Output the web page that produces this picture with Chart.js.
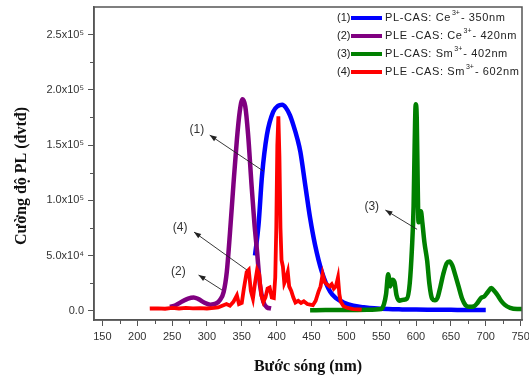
<!DOCTYPE html>
<html><head><meta charset="utf-8">
<script src="https://cdn.jsdelivr.net/npm/chart.js@4/dist/chart.umd.min.js"></script>
<style>html,body{margin:0;padding:0;background:#fff}</style>
</head><body>
<canvas id="c" width="529" height="376"></canvas>
<script>
// ---- data (wavelength nm, intensity a.u.) ----
const blueX = [369,374,379,386,395,402,408,413,419,424,430,434,441,448,455,465,477,486,496,510,525,540,560,580,600,620,650,680,700];
const blueY = [50000,77500,122000,159000,180000,185500,186500,184000,177000,168000,155000,144000,114000,84000,60000,35000,17000,11000,7500,4500,3200,2200,1500,1200,1000,900,800,700,700];

const purpleX = [247,255,265,273,281,288,296,305,313,319,324,328.5,333,338,343,347,351,355,359,364,368,372,376,381,386,392];
const purpleY = [3500,5000,8500,11000,12000,10500,7500,5500,6500,10000,17000,35000,70000,114000,155000,180000,191500,185000,160000,114000,80000,53000,24000,8000,3000,2000];

const greenX = [448,470,500,530,550,554,557,560,563,566,569,572,576,582,587,591,594,596.5,598,599.5,601,602.5,603.5,605,607,609,612,616,619,623,627,631,635,639,644,648,652,656,661,666,671,677,683,688,693,698,703,708,712,717,722,727,735,745,752];
const greenY = [500,600,700,800,1500,6000,15000,33000,22000,28000,26000,14000,9000,10000,11000,25000,55000,95000,150000,187000,175000,110000,80000,88000,90000,80000,62000,45000,25000,11000,9500,12000,22000,33000,43000,44500,41000,33000,22000,11000,5000,3500,4000,7000,11500,13000,17000,20500,18000,14000,9000,5500,2500,1500,1500];

const redX = [218,230,240,250,260,270,280,290,300,310,316,322,328,333,338,343,346,350,353,357,360,363,366,369,372,375,378,381,384,387,390,393,396,398,399.5,401,402.5,404,405.5,407,409,411,413,416,418,421,424,427,431,435,439,444,448,452,456,460,463,466,469,472,476,479,482,485,488,490,492,496,502,510,522];
const redY = [2000,2200,1800,2500,2000,2600,2200,2400,2000,2500,3000,4500,6000,4500,8000,14000,6000,7000,20000,35000,37000,18000,11000,25000,37000,33000,14000,8000,12000,20000,21000,12000,11500,30000,75000,150000,176000,140000,75000,46000,40000,25000,28000,35000,22000,18000,12000,7500,9000,7000,8500,6000,5500,5000,9000,17000,22000,33000,26000,24000,22000,24000,20000,22000,30000,15000,8000,4000,2500,1500,1000];

// ---- ticks ----
const xTickValues = [150,200,250,300,350,400,450,500,550,600,650,700,750];
const xMinorValues = [175,225,275,325,375,425,475,525,575,625,675,725];
const yTickValues = [0,50000,100000,150000,200000,250000];
const yTickLabels = ['0.0','5.0x10\u2074','1.0x10\u2075','1.5x10\u2075','2.0x10\u2075','2.5x10\u2075'];
const yMinorValues = [25000,75000,125000,175000,225000];

// ---- legend ----
const legendNums = ['(1)','(2)','(3)','(4)'];
const legendPre = ['PL-CAS: Ce','PLE -CAS: Ce','PL-CAS: Sm','PLE -CAS: Sm'];
const legendSup = ['3+','3+','3+','3+'];
const legendPost = ['- 350nm','- 420nm','- 402nm','- 602nm'];
const seriesColors = ['#0000ff','#800080','#008000','#ff0000'];

// ---- annotations (data units) ----
const annotLabels = ['(1)','(2)','(3)','(4)'];
const annotLabelX = [285.5,259,536.5,261.5];
const annotLabelY = [164000,35300,94100,74800];
const arrowHeadX = [304,288,556,281.5];
const arrowHeadY = [159000,32300,91100,71200];
const arrowTailX = [381,321.5,601.5,357.5];
const arrowTailY = [126400,18800,73700,36800];

const xTitle = 'Bước sóng (nm)';
const yTitle = 'Cường độ PL (đvtđ)';

const toPts = (xs, ys) => xs.map((x, i) => ({x: x, y: ys[i]}));

const deco = {
  id: 'deco',
  afterDraw(chart) {
    const ctx = chart.ctx, a = chart.chartArea;
    const xs = chart.scales.x, ys = chart.scales.y;
    ctx.save();
    // frame
    ctx.strokeStyle = '#555';
    ctx.lineWidth = 1.5;
    ctx.strokeRect(a.left, a.top, a.right - a.left, a.bottom - a.top);
    // minor ticks
    ctx.lineWidth = 1;
    ctx.beginPath();
    xMinorValues.forEach(v => { const p = Math.round(xs.getPixelForValue(v)) + 0.5; ctx.moveTo(p, a.bottom); ctx.lineTo(p, a.bottom + 4); });
    yMinorValues.forEach(v => { const p = Math.round(ys.getPixelForValue(v)) + 0.5; ctx.moveTo(a.left, p); ctx.lineTo(a.left - 4, p); });
    ctx.stroke();
    // y title
    ctx.save();
    ctx.translate(22, 176);
    ctx.rotate(-Math.PI / 2);
    ctx.font = 'bold 16px "Liberation Serif", "Times New Roman", serif';
    ctx.fillStyle = '#111';
    ctx.textAlign = 'center';
    ctx.textBaseline = 'middle';
    ctx.fillText(yTitle, 0, 0);
    ctx.restore();
    // legend
    ctx.textBaseline = 'middle';
    for (let i = 0; i < legendNums.length; i++) {
      const y = a.top + 11 + i * 18;
      let x = a.right - 185;
      ctx.font = '11px "Liberation Sans", Arial, sans-serif';
      ctx.fillStyle = '#222';
      ctx.textAlign = 'left';
      ctx.fillText(legendNums[i], x, y);
      ctx.strokeStyle = seriesColors[i];
      ctx.lineWidth = 4;
      ctx.beginPath();
      ctx.moveTo(x + 14, y); ctx.lineTo(x + 45, y); ctx.stroke();
      x += 48;
      ctx.letterSpacing = '0.6px';
      ctx.fillText(legendPre[i], x, y);
      x += ctx.measureText(legendPre[i]).width + 1;
      ctx.font = '7px "Liberation Sans", Arial, sans-serif';
      ctx.letterSpacing = '0px';
      ctx.fillText(legendSup[i], x, y - 5);
      x += ctx.measureText(legendSup[i]).width + 1;
      ctx.font = '11px "Liberation Sans", Arial, sans-serif';
      ctx.letterSpacing = '0.6px';
      ctx.fillText(legendPost[i], x, y);
      ctx.letterSpacing = '0px';
    }
    // annotations
    for (let i = 0; i < annotLabels.length; i++) {
      const lx = xs.getPixelForValue(annotLabelX[i]), ly = ys.getPixelForValue(annotLabelY[i]);
      ctx.font = '12px "Liberation Sans", Arial, sans-serif';
      ctx.fillStyle = '#333';
      ctx.textAlign = 'center';
      ctx.textBaseline = 'middle';
      ctx.fillText(annotLabels[i], lx, ly);
      const hx = xs.getPixelForValue(arrowHeadX[i]), hy = ys.getPixelForValue(arrowHeadY[i]);
      const tx = xs.getPixelForValue(arrowTailX[i]), ty = ys.getPixelForValue(arrowTailY[i]);
      ctx.strokeStyle = '#222';
      ctx.lineWidth = 0.9;
      ctx.beginPath(); ctx.moveTo(tx, ty); ctx.lineTo(hx, hy); ctx.stroke();
      const ang = Math.atan2(hy - ty, hx - tx);
      const L = 7, W = 2.6;
      ctx.fillStyle = '#222';
      ctx.beginPath();
      ctx.moveTo(hx, hy);
      ctx.lineTo(hx - L * Math.cos(ang) + W * Math.sin(ang), hy - L * Math.sin(ang) - W * Math.cos(ang));
      ctx.lineTo(hx - L * Math.cos(ang) - W * Math.sin(ang), hy - L * Math.sin(ang) + W * Math.cos(ang));
      ctx.closePath(); ctx.fill();
    }
    ctx.restore();
  }
};

const tickFont = {family: '"Liberation Sans", Arial, sans-serif', size: 11};

new Chart(document.getElementById('c'), {
  type: 'line',
  data: {
    datasets: [
      {label: legendPre[3] + legendSup[3] + legendPost[3], data: toPts(redX, redY), borderColor: seriesColors[3], borderWidth: 3.8, pointRadius: 0, tension: 0, order: 0},
      {label: legendPre[2] + legendSup[2] + legendPost[2], data: toPts(greenX, greenY), borderColor: seriesColors[2], borderWidth: 4.5, pointRadius: 0, cubicInterpolationMode: 'monotone', order: 1},
      {label: legendPre[1] + legendSup[1] + legendPost[1], data: toPts(purpleX, purpleY), borderColor: seriesColors[1], borderWidth: 4.5, pointRadius: 0, cubicInterpolationMode: 'monotone', order: 2},
      {label: legendPre[0] + legendSup[0] + legendPost[0], data: toPts(blueX, blueY), borderColor: seriesColors[0], borderWidth: 4.5, pointRadius: 0, cubicInterpolationMode: 'monotone', order: 3}
    ]
  },
  options: {
    responsive: false,
    animation: false,
    devicePixelRatio: 1,
    layout: {padding: {top: 7, right: 7, left: 0, bottom: 0}},
    plugins: {legend: {display: false}, tooltip: {enabled: false}},
    scales: {
      x: {
        type: 'linear', min: 138, max: 752,
        afterBuildTicks: s => { s.ticks = xTickValues.map(v => ({value: v})); },
        afterFit: s => { s.height = 56; s.paddingLeft = 0; s.paddingRight = 0; },
        ticks: {font: tickFont, color: '#333', maxRotation: 0, padding: 4, autoSkip: false, callback: v => String(v)},
        grid: {drawOnChartArea: false, tickLength: 6, color: '#555', lineWidth: 1},
        border: {color: '#555', width: 1.5},
        title: {display: true, text: xTitle, color: '#111', padding: 0, font: {family: '"Liberation Serif", "Times New Roman", serif', size: 16, weight: 'bold'}}
      },
      y: {
        type: 'linear', min: -8400, max: 275000,
        afterBuildTicks: s => { s.ticks = yTickValues.map(v => ({value: v})); },
        afterFit: s => { s.width = 94; s.paddingTop = 0; s.paddingBottom = 0; },
        ticks: {font: tickFont, color: '#333', padding: 4, autoSkip: false, callback: v => { const k = yTickValues.indexOf(v); return k >= 0 ? yTickLabels[k] : ''; }},
        grid: {drawOnChartArea: false, tickLength: 6, color: '#555', lineWidth: 1},
        border: {color: '#555', width: 1.5}
      }
    }
  },
  plugins: [deco]
});
</script>
</body></html>
